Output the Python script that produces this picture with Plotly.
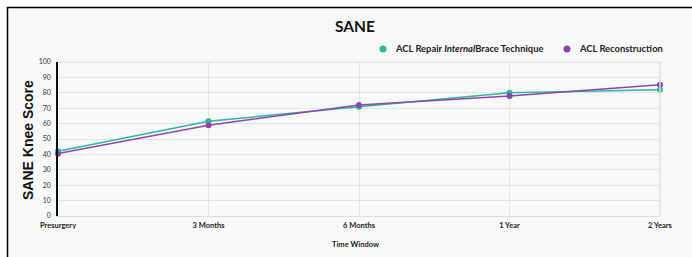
import plotly.graph_objects as go

categories = ["Presurgery", "3 Months", "6 Months", "1 Year", "2 Years"]
repair_values = [42, 61.5, 71, 80, 82]
recon_values = [40.5, 59, 72, 78, 85.3]
series_names = ["ACL Repair <i>Internal</i>Brace Technique", "ACL Reconstruction"]
series_colors = ["#2bb79b", "#8e44ad"]
y_ticks = list(range(0, 101, 10))

W, H = 692, 257
L, R, T, B = 58, 32, 62, 41
pw, ph = W - L - R, H - T - B

def px_x(x):
    return (x - L) / pw

def px_y(y):
    return 1 - (y - T) / ph

fig = go.Figure()
for vals, name, col in [(repair_values, series_names[0], series_colors[0]),
                        (recon_values, series_names[1], series_colors[1])]:
    fig.add_trace(go.Scatter(x=categories, y=vals, name=name, showlegend=False,
                             mode="lines+markers", line=dict(color=col, width=1.5),
                             marker=dict(size=6, color=col), cliponaxis=False))

fig.add_shape(type="rect", xref="paper", yref="paper",
              x0=px_x(7.5), x1=px_x(W + 10), y0=px_y(H + 10), y1=px_y(7.5),
              line=dict(color="black", width=1.5), fillcolor="#f7f8f8", layer="below")

# manual legend
legend_pos = [(383, 392.5), (567, 576.5)]
annotations = []
for (cx, tx), name, col in zip(legend_pos, series_names, series_colors):
    fig.add_shape(type="circle", xref="paper", yref="paper",
                  x0=px_x(cx - 3.5), x1=px_x(cx + 3.5), y0=px_y(49 + 3.5), y1=px_y(49 - 3.5),
                  fillcolor=col, line=dict(width=0))
    annotations.append(dict(text=name, xref="paper", yref="paper", x=px_x(tx), y=px_y(49),
                            xanchor="left", yanchor="middle", showarrow=False,
                            font=dict(size=9.4, color="#222", weight="bold")))

annotations += [
    dict(text="SANE Knee Score", xref="paper", yref="paper", x=px_x(28), y=px_y(140),
         xanchor="center", yanchor="middle", textangle=-90, showarrow=False,
         font=dict(size=14, color="#111", family="Liberation Sans, Arial", weight="bold")),
    dict(text="Time Window", xref="paper", yref="paper", x=px_x(355), y=px_y(244),
         xanchor="center", yanchor="middle", showarrow=False,
         font=dict(size=7.5, color="#222", weight="bold")),
]

fig.update_layout(
    width=W, height=H,
    margin=dict(l=L, r=R, t=T, b=B, autoexpand=False),
    paper_bgcolor="white",
    plot_bgcolor="rgba(0,0,0,0)",
    font=dict(family="Lato, Open Sans, sans-serif", color="#222"),
    title=dict(text="<b>SANE</b>", x=px_x(355), xref="paper", xanchor="center",
               y=1 - 27 / H, yanchor="middle", font=dict(size=15.5, color="#111")),
    showlegend=False,
    xaxis=dict(type="category", range=[0, 4], showgrid=True, gridcolor="#e2e4e4", gridwidth=1,
               showline=True, linecolor="#dcdede", linewidth=1, zeroline=False, automargin=False,
               ticks="", ticklabelstandoff=2, tickfont=dict(size=7.5, color="#222", weight="bold")),
    yaxis=dict(range=[0, 100], tickvals=y_ticks, showgrid=True, gridcolor="#e2e4e4", gridwidth=1,
               showline=True, linecolor="#111", linewidth=1.5, zeroline=False, automargin=False,
               ticks="", ticklabelstandoff=4, tickfont=dict(size=7, color="#333")),
    annotations=annotations,
)
fig.add_shape(type="line", xref="paper", yref="paper", x0=1, x1=1, y0=0, y1=1,
              line=dict(color="#dcdede", width=1.5))
fig.add_shape(type="line", xref="paper", yref="paper", x0=0, x1=1, y0=1, y1=1,
              line=dict(color="#dcdede", width=1))

fig.write_html("out.html", config={"displayModeBar": False},
               post_script="document.body.style.margin='0px';")
